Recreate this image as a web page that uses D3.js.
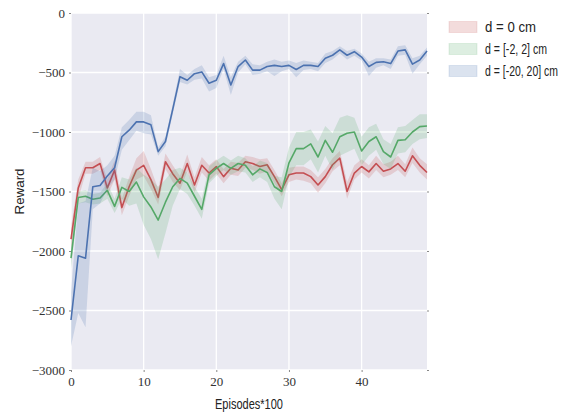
<!DOCTYPE html>
<html>
<head>
<meta charset="utf-8">
<script src="https://cdn.jsdelivr.net/npm/d3@7"></script>
<style>
  html, body { margin: 0; padding: 0; background: #fff; }
</style>
</head>
<body>
<div id="chart"></div>
<script>
// episodes (x 100)
const episodes = d3.range(50);

const xTicks = [0, 10, 20, 30, 40];
const yTicks = [0, -500, -1000, -1500, -2000, -2500, -3000];

const labels = ["d = 0 cm", "d = [-2, 2] cm", "d = [-20, 20] cm"];

// d = 0 cm
const redMean = [-1900, -1470, -1300, -1300, -1265, -1470, -1320, -1635, -1460, -1320,
  -1280, -1400, -1550, -1250, -1350, -1430, -1265, -1445, -1280, -1345,
  -1290, -1375, -1305, -1320, -1250, -1265, -1290, -1275, -1375, -1485,
  -1360, -1345, -1345, -1375, -1445, -1375, -1275, -1220, -1500, -1345,
  -1290, -1335, -1265, -1330, -1310, -1265, -1330, -1200, -1280, -1340];
const redLo = [-2000, -1560, -1350, -1350, -1320, -1540, -1400, -1700, -1540, -1400,
  -1370, -1480, -1610, -1310, -1420, -1490, -1330, -1510, -1340, -1410,
  -1350, -1430, -1360, -1370, -1300, -1320, -1350, -1330, -1430, -1540,
  -1420, -1400, -1410, -1430, -1510, -1430, -1330, -1280, -1560, -1400,
  -1340, -1390, -1320, -1380, -1360, -1320, -1380, -1260, -1340, -1400];
const redHi = [-1800, -1400, -1250, -1250, -1210, -1400, -1240, -1560, -1380, -1220,
  -1160, -1310, -1480, -1180, -1280, -1370, -1190, -1380, -1210, -1280,
  -1230, -1310, -1250, -1260, -1200, -1210, -1230, -1220, -1320, -1430,
  -1300, -1290, -1290, -1320, -1380, -1310, -1220, -1160, -1420, -1280,
  -1230, -1280, -1200, -1270, -1250, -1200, -1270, -1130, -1220, -1270];

// d = [-2, 2] cm
const greenMean = [-2060, -1550, -1540, -1565, -1555, -1490, -1625, -1465, -1500, -1420,
  -1545, -1630, -1740, -1590, -1460, -1390, -1430, -1540, -1650, -1360,
  -1305, -1265, -1305, -1265, -1280, -1360, -1310, -1340, -1460, -1500,
  -1260, -1140, -1140, -1100, -1210, -1070, -1170, -1040, -1010, -1000,
  -1160, -1080, -1040, -1165, -1210, -1070, -1065, -1000, -955, -950];
const greenLo = [-2150, -1600, -1590, -1610, -1600, -1560, -1680, -1560, -1620, -1600,
  -1780, -1900, -2070, -1850, -1620, -1480, -1520, -1620, -1730, -1430,
  -1370, -1320, -1360, -1330, -1340, -1420, -1380, -1420, -1560, -1650,
  -1380, -1280, -1280, -1230, -1340, -1200, -1320, -1200, -1170, -1140,
  -1280, -1200, -1150, -1270, -1310, -1180, -1170, -1100, -1060, -1050];
const greenHi = [-1970, -1500, -1490, -1520, -1510, -1430, -1560, -1380, -1400, -1300,
  -1360, -1400, -1460, -1400, -1320, -1300, -1340, -1460, -1560, -1290,
  -1240, -1200, -1240, -1200, -1220, -1290, -1240, -1260, -1370, -1380,
  -1130, -1000, -1000, -980, -1080, -950, -1010, -880, -860, -880,
  -1040, -960, -930, -1060, -1100, -960, -950, -900, -850, -850];

// d = [-20, 20] cm
const blueMean = [-2580, -2040, -2060, -1460, -1450, -1370, -1300, -1040, -985, -915,
  -915, -940, -1165, -1080, -810, -535, -565, -510, -495, -590,
  -565, -425, -605, -450, -395, -480, -480, -450, -440, -450,
  -440, -475, -440, -440, -450, -380, -355, -310, -355, -325,
  -370, -450, -415, -410, -425, -320, -310, -430, -395, -320];
const blueLo = [-2800, -2520, -2640, -1650, -1600, -1480, -1400, -1150, -1070, -990,
  -1010, -1020, -1200, -1120, -850, -580, -600, -560, -550, -660,
  -630, -470, -690, -500, -430, -520, -510, -490, -530, -490,
  -470, -540, -480, -470, -490, -420, -390, -340, -390, -360,
  -400, -530, -460, -440, -470, -360, -350, -510, -430, -360];
const blueHi = [-2350, -1600, -1580, -1300, -1330, -1280, -1200, -960, -900, -830,
  -830, -860, -1130, -1040, -770, -470, -520, -470, -440, -540,
  -520, -360, -540, -410, -360, -430, -440, -410, -390, -410,
  -400, -420, -400, -410, -420, -340, -320, -280, -320, -300,
  -340, -410, -380, -380, -390, -280, -270, -380, -360, -290];

const series = [
  { label: labels[0], mean: redMean, lo: redLo, hi: redHi, color: "#C44E52" },
  { label: labels[1], mean: greenMean, lo: greenLo, hi: greenHi, color: "#55A868" },
  { label: labels[2], mean: blueMean, lo: blueLo, hi: blueHi, color: "#4C72B0" }
];

const width = 582, height = 416;
const plotL = 71, plotR = 427, plotT = 13, plotB = 370;

const svg = d3.select("#chart").append("svg")
  .attr("width", width)
  .attr("height", height)
  .style("display", "block");

const x = d3.scaleLinear().domain([0, 49]).range([plotL, plotR]);
const y = d3.scaleLinear().domain([-3000, 0]).range([plotB, plotT]);

// darkgrid background
svg.append("rect")
  .attr("x", plotL).attr("y", plotT)
  .attr("width", plotR - plotL).attr("height", plotB - plotT)
  .attr("fill", "#EAEAF2");

svg.append("g").selectAll("line")
  .data(xTicks).enter().append("line")
  .attr("x1", d => x(d)).attr("x2", d => x(d))
  .attr("y1", plotT).attr("y2", plotB)
  .attr("stroke", "#fff").attr("stroke-width", 1.3);

svg.append("g").selectAll("line")
  .data(yTicks).enter().append("line")
  .attr("x1", plotL).attr("x2", plotR)
  .attr("y1", d => y(d)).attr("y2", d => y(d))
  .attr("stroke", "#fff").attr("stroke-width", 1.3);

// axes (tiny ticks, no domain line)
const fmt = d => d < 0 ? "\u2212" + Math.abs(d) : String(d);

const yAxis = svg.append("g")
  .attr("transform", `translate(${plotL},0)`)
  .call(d3.axisLeft(y).tickValues(yTicks).tickFormat(fmt).tickSize(2).tickPadding(4));
const yAxisR = svg.append("g")
  .attr("transform", `translate(${plotR},0)`)
  .call(d3.axisRight(y).tickValues(yTicks).tickFormat("").tickSize(2));
const xAxis = svg.append("g")
  .attr("transform", `translate(0,${plotB})`)
  .call(d3.axisBottom(x).tickValues(xTicks).tickFormat(fmt).tickSize(2).tickPadding(5));

[yAxis, yAxisR, xAxis].forEach(g => {
  g.select(".domain").remove();
  g.selectAll(".tick line").attr("stroke", "#888");
  g.selectAll("text")
    .attr("fill", "#333")
    .style("font-family", "'Liberation Serif', 'DejaVu Serif', serif")
    .style("font-size", "13px");
});

// bands and lines
const area = d3.area()
  .x(d => x(d.x))
  .y0(d => y(d.lo))
  .y1(d => y(d.hi));
const line = d3.line()
  .x(d => x(d.x))
  .y(d => y(d.v));

const plot = svg.append("g");
series.forEach(s => {
  const pts = episodes.map((e, i) => ({ x: e, v: s.mean[i], lo: s.lo[i], hi: s.hi[i] }));
  plot.append("path")
    .datum(pts)
    .attr("d", area)
    .attr("fill", s.color)
    .attr("fill-opacity", 0.2);
  plot.append("path")
    .datum(pts)
    .attr("d", line)
    .attr("fill", "none")
    .attr("stroke", s.color)
    .attr("stroke-width", 1.6)
    .attr("stroke-linejoin", "round");
});

// axis labels
svg.append("text")
  .attr("x", 249).attr("y", 409)
  .attr("text-anchor", "middle")
  .attr("textLength", 68).attr("lengthAdjust", "spacingAndGlyphs")
  .style("font-family", "'Liberation Sans', 'DejaVu Sans', sans-serif")
  .style("font-size", "15px")
  .attr("fill", "#222")
  .text("Episodes*100");

svg.append("text")
  .attr("transform", `translate(24,${(plotT + plotB) / 2}) rotate(-90)`)
  .attr("text-anchor", "middle")
  .attr("textLength", 46).attr("lengthAdjust", "spacingAndGlyphs")
  .style("font-family", "'Liberation Sans', 'DejaVu Sans', sans-serif")
  .style("font-size", "13px")
  .attr("fill", "#222")
  .text("Reward");

// legend
const legendW = [51, 62, 73];
const legend = svg.append("g");
series.forEach((s, i) => {
  const cy = 27 + i * 22;
  legend.append("rect")
    .attr("x", 449).attr("y", cy - 5.5)
    .attr("width", 28).attr("height", 11)
    .attr("fill", s.color).attr("fill-opacity", 0.2)
    .attr("stroke", s.color).attr("stroke-opacity", 0.15);
  legend.append("text")
    .attr("x", 485).attr("y", cy + 4.5)
    .attr("textLength", legendW[i]).attr("lengthAdjust", "spacingAndGlyphs")
    .style("font-family", "'Liberation Sans', 'DejaVu Sans', sans-serif")
    .style("font-size", "14px")
    .attr("fill", "#222")
    .text(s.label);
});
</script>
</body>
</html>
